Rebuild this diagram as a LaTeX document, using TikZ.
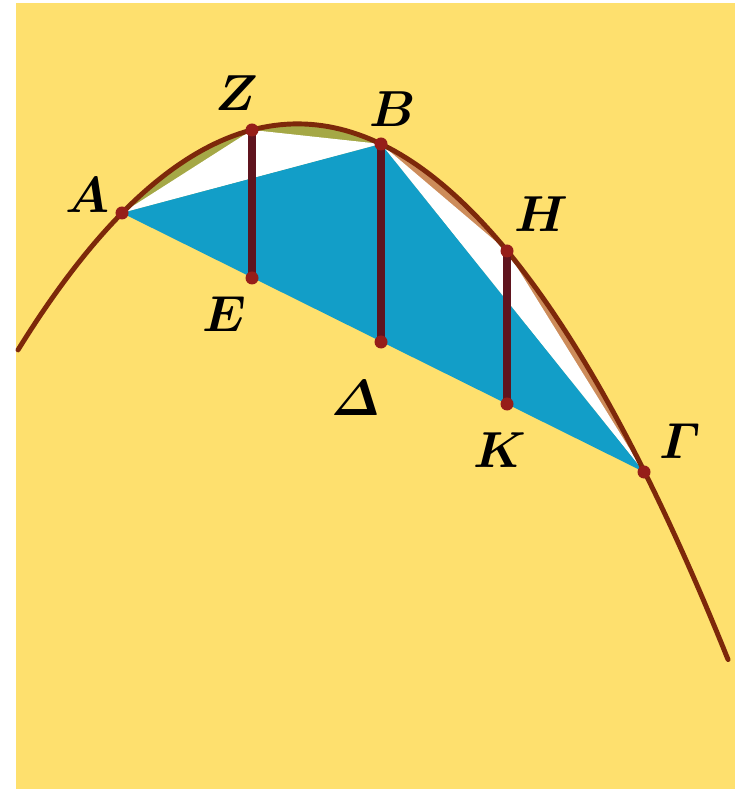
\documentclass[tikz,border=0pt]{standalone}
\usepackage{amsmath}
\usepackage{xcolor}
\usepackage{tikz}
\usetikzlibrary{positioning}

\definecolor{bgyellow}{RGB}{254,224,110}
\definecolor{segblue}{RGB}{18,158,200}
\definecolor{curvebrown}{RGB}{125,40,10}
\definecolor{chordred}{RGB}{95,20,30}
\definecolor{ptred}{RGB}{150,30,25}
\definecolor{segolive}{RGB}{165,168,70}
\definecolor{segtan}{RGB}{205,140,90}

\begin{document}
\begin{tikzpicture}[
    x=0.01cm, y=-0.01cm,
    curve/.style={curvebrown, line width=1.4pt, line cap=round},
    chord/.style={chordred, line width=2.3pt},
    dot/.style={circle, fill=ptred, inner sep=0pt, minimum size=0.13cm},
    lbl/.style={font=\fontsize{14.5}{16}\selectfont\boldmath, inner sep=0pt},
]
\useasboundingbox (0,0) rectangle (735,789);
\fill[white] (0,0) rectangle (735,789);
\fill[bgyellow] (16,3) rectangle (735,789);

% points of the parabola and of the chord
\coordinate (A) at (122,213);
\coordinate (Z) at (252,130);
\coordinate (B) at (381,144);
\coordinate (H) at (507,251);
\coordinate (G) at (644,472);
\coordinate (E) at (252,278);
\coordinate (D) at (381,342);
\coordinate (K) at (507,404);

% segments between chords and curve
\fill[segolive] plot[domain=122:381, samples=60] (\x,{123.9+(0.053777*(\x-297.6))^2}) -- cycle;
\fill[segtan] plot[domain=381:644, samples=60] (\x,{123.9+(0.053777*(\x-297.6))^2}) -- cycle;
\fill[white] (A) -- (Z) -- (B) -- cycle;
\fill[white] (B) -- (H) -- (G) -- cycle;
\fill[segblue] (A) -- (B) -- (G) -- cycle;

% the parabola
\draw[curve] plot[domain=18:728, samples=120] (\x,{123.9+(0.053777*(\x-297.6))^2});

\draw[chord] (Z) -- (E);
\draw[chord] (B) -- (D);
\draw[chord] (H) -- (K);

\foreach \p in {A,Z,B,H,G,E,D,K}
    \node[dot] at (\p) {};

\node[lbl, above left=0mm and 0.12cm of A] {$A$};
\node[lbl, above=0.185cm of Z, xshift=-0.15cm] {$Z$};
\node[lbl, above=0.165cm of B, xshift=0.12cm] {$B$};
\node[lbl, above=0.185cm of H, xshift=0.34cm] {$H$};
\node[lbl, below=0.185cm of E, xshift=-0.28cm] {$E$};
\node[lbl, below=0.385cm of D, xshift=-0.25cm] {$\varDelta$};
\node[lbl, below=0.285cm of K, xshift=-0.07cm] {$K$};
\node[lbl, above=0.125cm of G, xshift=0.36cm] {$\varGamma$};

\end{tikzpicture}
\end{document}
